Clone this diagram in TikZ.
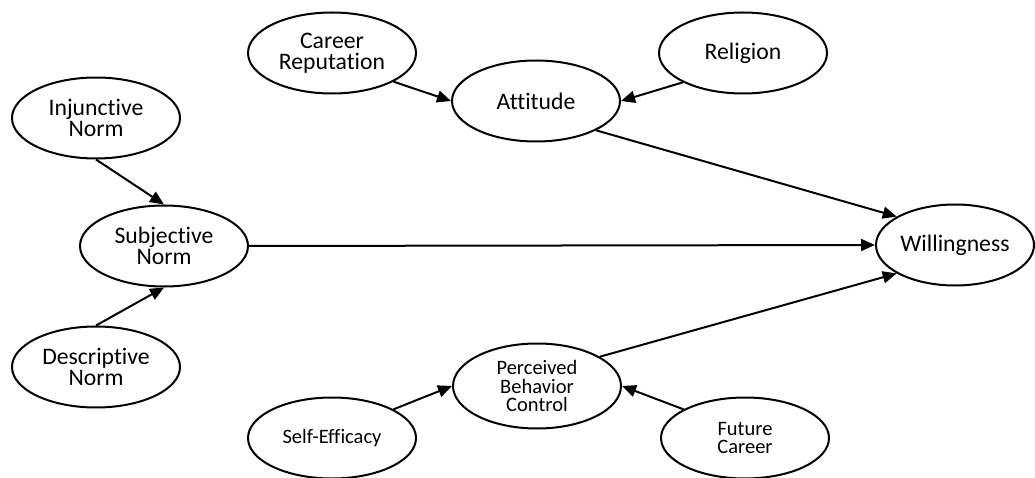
\documentclass[tikz,border=0pt]{standalone}
\usepackage{fontspec}
\setmainfont{Carlito}[Ligatures=CommonOff]
\usetikzlibrary{shapes.geometric,arrows.meta}

\begin{document}
\begin{tikzpicture}[x=1pt,y=-1pt,>={Triangle[length=14pt,width=12pt]},
	every text node part/.style={align=center},
	var/.style={draw,ellipse,line width=2pt,inner sep=0pt,minimum width=168pt,minimum height=81pt,font={\fontsize{23.7}{21}\selectfont}},
	small/.style={font={\fontsize{20.5}{18.5}\selectfont}},
	link/.style={->,line width=2pt}]

\useasboundingbox (0,0) rectangle (1035,478);

%%%%%%%%%%%%%%%%%%%%%%%%%%%%%%%%%%%%%%

\node[var] (cr) at (332,53) {Career\\Reputation};
\node[var] (att) at (536,101) {Attitude};
\node[var] (rel) at (743,53) {Religion};

\draw[link] (cr.-25) -- (att.west);
\draw[link] (rel.-154) -- (att.east);

%%%%%%%%%%%%%%%%%%%%%%%%%%%%%%%%%%%%%%

\node[var] (inj) at (96,118) {Injunctive\\Norm};
\node[var] (subj) at (164,246) {Subjective\\Norm};
\node[var] (desc) at (96,367) {Descriptive\\Norm};

\draw[link] (inj.south) -- (subj.north);
\draw[link] (desc.north) -- (subj.south);

%%%%%%%%%%%%%%%%%%%%%%%%%%%%%%%%%%%%%%

\node[var,small,minimum height=85pt] (pbc) at (537,386) {Perceived\\Behavior\\Control};
\node[var,small] (se) at (332,438) {Self-Efficacy};
\node[var,small] (fc) at (745,438) {Future\\Career};

\draw[link] (se.25) -- (pbc.west);
\draw[link] (fc.155) -- (pbc.east);

%%%%%%%%%%%%%%%%%%%%%%%%%%%%%%%%%%%%%%

\node[var,minimum width=158pt] (will) at (955,245) {Willingness};

\draw[link] (att.-26) -- (will.154);
\draw[link] (subj.east) -- (will.west);
\draw[link] (pbc.25) -- (will.206);

\end{tikzpicture}
\end{document}
